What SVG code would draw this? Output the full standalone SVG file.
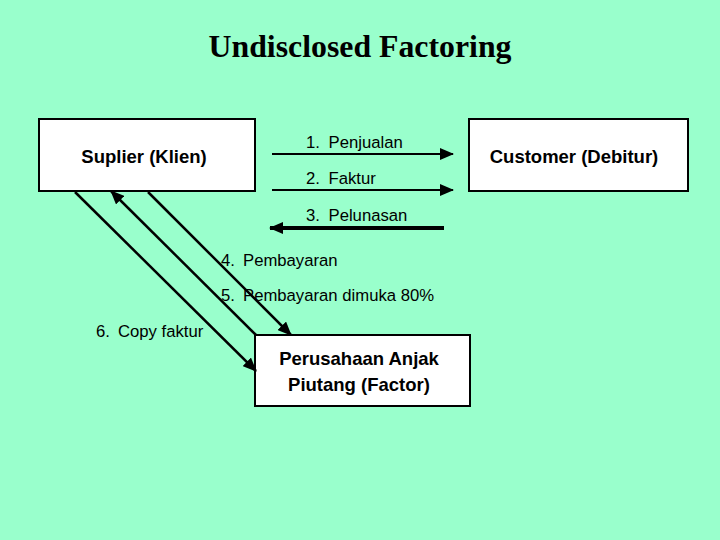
<svg xmlns="http://www.w3.org/2000/svg" width="720" height="540" viewBox="0 0 720 540">
<style>
.box{fill:#fff;stroke:#000;stroke-width:2}
.nl{font-family:"Liberation Sans",Arial,sans-serif;font-weight:bold;font-size:18.5px;fill:#000}
.lb{font-family:"Liberation Sans",Arial,sans-serif;font-size:16.7px;fill:#000}
.ln{stroke:#000;fill:none}
</style>
<defs>
<marker id="ah2" markerWidth="14" markerHeight="12" refX="13" refY="6" orient="auto" markerUnits="userSpaceOnUse" viewBox="0 0 14 12">
<path d="M0,0 L14,6 L0,12 Z" fill="#000"/>
</marker>
</defs>
<rect width="720" height="540" fill="#99ffcc"/>
<text x="360" y="57" text-anchor="middle" font-family="'Liberation Serif','Times New Roman',serif" font-weight="bold" font-size="31.8px">Undisclosed Factoring</text>
<g id="suplier">
<rect class="box" x="39" y="119" width="216" height="72"/>
<text class="nl" x="144" y="163" text-anchor="middle">Suplier (Klien)</text>
</g>
<g id="customer">
<rect class="box" x="469" y="119" width="219" height="72"/>
<text class="nl" x="574" y="163" text-anchor="middle">Customer (Debitur)</text>
</g>
<g id="factor">
<rect class="box" x="255" y="335" width="215" height="71"/>
<text class="nl" x="359" y="365" text-anchor="middle">Perusahaan Anjak</text>
<text class="nl" x="359" y="391" text-anchor="middle">Piutang (Factor)</text>
</g>
<g id="connectors">
<line class="ln" x1="272" y1="154" x2="453" y2="154" stroke-width="2" marker-end="url(#ah2)"/>
<line class="ln" x1="272" y1="190" x2="453" y2="190" stroke-width="2" marker-end="url(#ah2)"/>
<line class="ln" x1="444" y1="228" x2="270" y2="228" stroke-width="4" marker-end="url(#ah2)"/>
<line class="ln" x1="75" y1="192" x2="256" y2="371" stroke-width="2.5" marker-end="url(#ah2)"/>
<line class="ln" x1="256" y1="335" x2="111" y2="191" stroke-width="2.5" marker-end="url(#ah2)"/>
<line class="ln" x1="148" y1="192" x2="291" y2="335" stroke-width="2.5" marker-end="url(#ah2)"/>
</g>
<g id="labels">
<text class="lb" y="148"><tspan x="306">1.</tspan><tspan x="328.5">Penjualan</tspan></text>
<text class="lb" y="184"><tspan x="306">2.</tspan><tspan x="328.5">Faktur</tspan></text>
<text class="lb" y="220.5"><tspan x="306">3.</tspan><tspan x="328.5">Pelunasan</tspan></text>
<text class="lb" y="266"><tspan x="221">4.</tspan><tspan x="243">Pembayaran</tspan></text>
<text class="lb" y="300.5"><tspan x="221">5.</tspan><tspan x="243">Pembayaran dimuka 80%</tspan></text>
<text class="lb" y="337"><tspan x="96">6.</tspan><tspan x="118">Copy faktur</tspan></text>
</g>
</svg>
